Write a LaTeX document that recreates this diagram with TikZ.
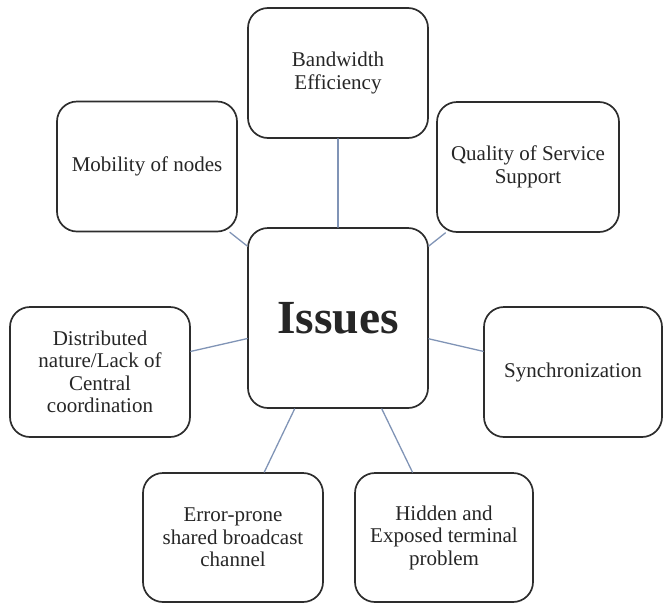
\documentclass[tikz,border=0pt]{standalone}
\usepackage{fontspec}
\setmainfont{Liberation Serif}
\definecolor{boxgray}{RGB}{45,45,45}
\definecolor{linkblue}{RGB}{128,148,182}
\begin{document}
\begin{tikzpicture}[x=1pt,y=-1pt, line join = round, line cap = round,
	issue/.style={draw=boxgray, line width=1.7pt, rounded corners=20pt, fill=white,
		minimum width=180pt, minimum height=130pt, align=center, text=black!85,
		font=\fontsize{21}{22.5}\selectfont, inner sep=2pt},
	hub/.style={issue, minimum height=180pt, font=\fontsize{47.5}{50}\selectfont\bfseries},
	link/.style={draw=linkblue, line width=1.3pt}]
	\useasboundingbox (0,0) rectangle (664,603);
	\node[hub] (iss) at (338,318) {Issues};
	\node[issue] (bw) at (338,73) {Bandwidth\\Efficiency};
	\node[issue] (mob) at (147,166.5) {Mobility of nodes};
	\node[issue, minimum width=182pt] (qos) at (528,167) {Quality of Service\\Support};
	\node[issue] (dist) at (100,372) {Distributed\\nature/Lack of\\Central\\coordination};
	\node[issue, minimum width=178pt] (sync) at (573,372) {Synchronization};
	\node[issue, minimum height=129pt] (err) at (233,537.5) {Error-prone\\shared broadcast\\channel};
	\node[issue, minimum width=178pt, minimum height=129pt] (hid) at (444,537.5) {Hidden and\\Exposed terminal\\problem};

	\draw[link] (bw)--(iss);
	\draw[link] (mob)--(iss);
	\draw[link] (qos)--(iss);
	\draw[link] (dist)--(iss);
	\draw[link] (sync)--(iss);
	\draw[link] (err)--(iss);
	\draw[link] (hid)--(iss);

\end{tikzpicture}
\end{document}
